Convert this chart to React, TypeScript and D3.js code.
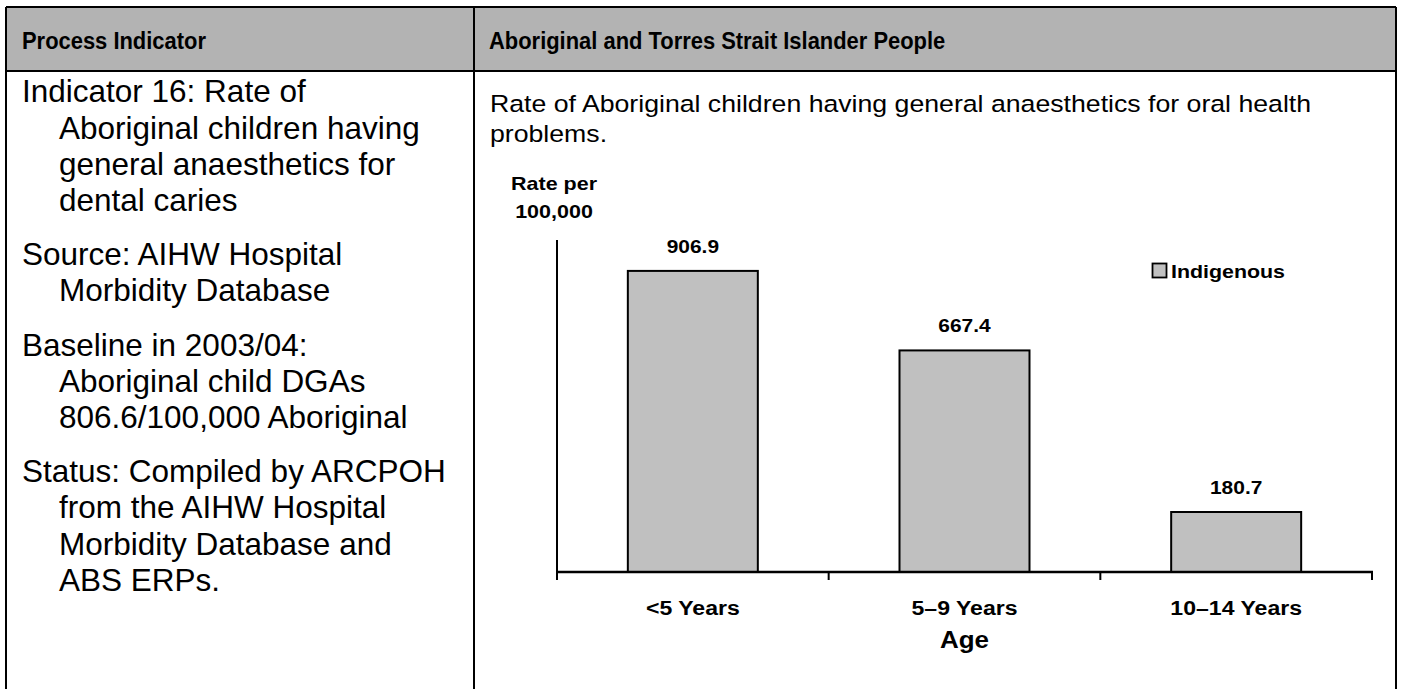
import React from "react";
import * as d3 from "d3";

const headerLeft = "Process Indicator";
const headerRight = "Aboriginal and Torres Strait Islander People";

const leftParagraphs: string[][] = [
  ["Indicator 16: Rate of", "Aboriginal children having", "general anaesthetics for", "dental caries"],
  ["Source: AIHW Hospital", "Morbidity Database"],
  ["Baseline in 2003/04:", "Aboriginal child DGAs", "806.6/100,000 Aboriginal"],
  ["Status: Compiled by ARCPOH", "from the AIHW Hospital", "Morbidity Database and", "ABS ERPs."],
];

const introLines = [
  "Rate of Aboriginal children having general anaesthetics for oral health",
  "problems.",
];

const categories = ["<5 Years", "5–9 Years", "10–14 Years"];
const values = [906.9, 667.4, 180.7];
const seriesName = "Indigenous";
const yAxisTitle = ["Rate per", "100,000"];
const xAxisTitle = "Age";
const yMax = 1000;

const FONT = "'Liberation Sans', Arial, Helvetica, sans-serif";
const SX = 1.12; // horizontal stretch of the embedded chart picture

function SText(props: {
  x: number;
  y: number;
  size: number;
  bold?: boolean;
  anchor?: "start" | "middle" | "end";
  sx?: number;
  children: React.ReactNode;
}) {
  const { x, y, size, bold, anchor = "start", sx = SX, children } = props;
  return (
    <text
      transform={`translate(${x},${y}) scale(${sx},1)`}
      fontSize={size}
      fontWeight={bold ? "bold" : "normal"}
      textAnchor={anchor}
    >
      {children}
    </text>
  );
}

export default function App() {
  const W = 1402;
  const H = 689;
  const tL = 6, tT = 7, tR = 1396, hB = 71, div = 474;

  const x = d3
    .scaleBand<string>()
    .domain(categories)
    .range([557, 1372])
    .paddingInner(0.5215)
    .paddingOuter(0.26075);
  const y = d3.scaleLinear().domain([0, yMax]).range([572, 240]);
  const step = x.step();
  const fmt = d3.format(".1f");

  const lineH = 36.2;
  const paraGap = 18;
  let yy = 102.3;
  const leftLines: { text: string; x: number; y: number }[] = [];
  leftParagraphs.forEach((p, pi) => {
    if (pi > 0) yy += paraGap;
    p.forEach((t, li) => {
      leftLines.push({ text: t, x: li === 0 ? 22 : 59, y: yy });
      yy += lineH;
    });
  });

  const [x0, x1] = x.range();
  const ticks = d3.range(categories.length + 1).map((i) => x0 + i * step);

  return (
    <div style={{ position: "absolute", left: 0, top: 0 }}>
      <svg width={W} height={H} style={{ display: "block", background: "#fff" }} fontFamily={FONT}>
        {/* table */}
        <rect x={tL} y={tT} width={tR - tL} height={hB - tT} fill="#b3b3b3" />
        <g stroke="#000" strokeWidth={2} fill="none">
          <line x1={tL} y1={tT} x2={tR} y2={tT} />
          <line x1={tL} y1={hB} x2={tR} y2={hB} />
          <line x1={tL} y1={tT} x2={tL} y2={H + 5} />
          <line x1={div} y1={tT} x2={div} y2={H + 5} />
          <line x1={tR} y1={tT} x2={tR} y2={H + 5} />
        </g>
        <SText x={22} y={48.5} size={23.2} bold sx={0.945}>{headerLeft}</SText>
        <SText x={489} y={48.5} size={23.2} bold sx={0.945}>{headerRight}</SText>

        {leftLines.map((l, i) => (
          <text key={i} x={l.x} y={l.y} fontSize={31.5}>{l.text}</text>
        ))}

        {introLines.map((t, i) => (
          <SText key={i} x={490} y={111.7 + i * 30.5} size={23.5} sx={1.135}>{t}</SText>
        ))}

        {/* y axis title */}
        {yAxisTitle.map((t, i) => (
          <SText key={i} x={554} y={190 + i * 28} size={19.2} bold anchor="middle">{t}</SText>
        ))}

        {/* bars */}
        {categories.map((c, i) => (
          <g key={c}>
            <rect
              x={x(c)!}
              y={y(values[i])}
              width={x.bandwidth()}
              height={y(0) - y(values[i])}
              fill="#c0c0c0"
              stroke="#000"
              strokeWidth={2}
            />
            <SText x={x(c)! + x.bandwidth() / 2} y={y(values[i]) - 18} size={18.7} bold anchor="middle">
              {fmt(values[i])}
            </SText>
            <SText x={x(c)! + x.bandwidth() / 2} y={614.5} size={20.6} bold anchor="middle">
              {c}
            </SText>
          </g>
        ))}

        {/* axes */}
        <line x1={x0} y1={y(yMax)} x2={x0} y2={y(0)} stroke="#000" strokeWidth={2} />
        <line x1={x0 - 1} y1={y(0)} x2={x1 + 1} y2={y(0)} stroke="#000" strokeWidth={2.5} />
        {ticks.map((t, i) => (
          <line key={i} x1={t} y1={y(0)} x2={t} y2={y(0) + 8} stroke="#000" strokeWidth={2} />
        ))}
        <SText x={(x0 + x1) / 2} y={648} size={23.2} bold anchor="middle">{xAxisTitle}</SText>

        {/* legend */}
        <rect x={1152.5} y={263.5} width={14} height={14} fill="#c0c0c0" stroke="#000" strokeWidth={1.8} />
        <SText x={1171} y={277.5} size={19.1} bold>{seriesName}</SText>
      </svg>
    </div>
  );
}
